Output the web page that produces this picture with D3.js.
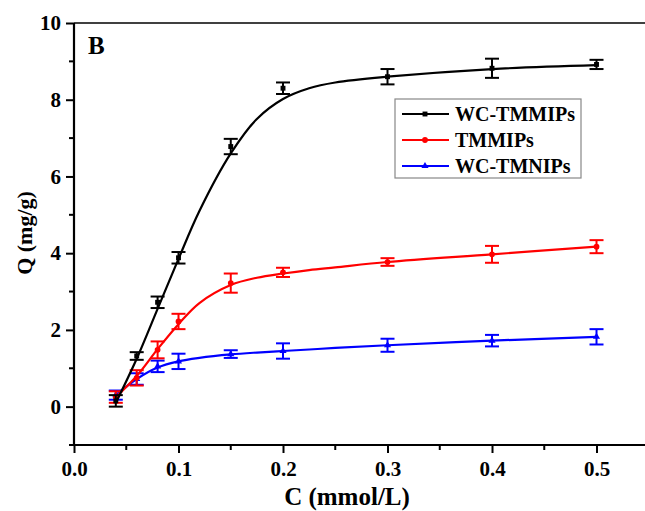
<!DOCTYPE html>
<html>
<head>
<meta charset="utf-8">
<script src="https://cdn.jsdelivr.net/npm/d3@7"></script>
<style>
  body { margin: 0; background: #fff; }
  text { font-family: "Liberation Serif", "Times New Roman", serif; font-weight: bold; }
</style>
</head>
<body>
<div id="chart"></div>
<script>
var svgWidth = 645;
var svgHeight = 511;

var margin = { top: 23, right: 0, bottom: 66, left: 74 };

// measured points (mmol/L)
var concs = [0.04, 0.06, 0.08, 0.1, 0.15, 0.2, 0.3, 0.4, 0.5];
var seriesNames = ["WC-TMMIPs", "TMMIPs", "WC-TMNIPs"];

var wcTmmipsQ   = [0.15, 1.32, 2.72, 3.88, 6.78, 8.30, 8.60, 8.82, 8.92];
var wcTmmipsErr = [0.15, 0.10, 0.15, 0.15, 0.20, 0.15, 0.20, 0.25, 0.12];
var tmmipsQ     = [0.25, 0.75, 1.48, 2.22, 3.22, 3.50, 3.77, 3.97, 4.17];
var tmmipsErr   = [0.15, 0.20, 0.22, 0.20, 0.25, 0.12, 0.10, 0.22, 0.17];
var wcTmnipsQ   = [0.30, 0.72, 1.05, 1.18, 1.37, 1.45, 1.60, 1.72, 1.82];
var wcTmnipsErr = [0.12, 0.15, 0.15, 0.20, 0.10, 0.20, 0.17, 0.15, 0.20];

// fitted curves
var fitC        = [0.04, 0.06, 0.08, 0.1, 0.12, 0.15, 0.175, 0.2, 0.225, 0.25, 0.3, 0.4, 0.5];
var wcTmmipsFit = [0.10, 1.25, 2.55, 3.85, 5.10, 6.60, 7.50, 8.02, 8.30, 8.45, 8.60, 8.80, 8.90];
var tmmipsFit   = [0.25, 0.80, 1.50, 2.15, 2.70, 3.17, 3.36, 3.47, 3.56, 3.63, 3.77, 3.97, 4.17];
var wcTmnipsFit = [0.30, 0.72, 1.02, 1.18, 1.27, 1.36, 1.41, 1.45, 1.49, 1.53, 1.60, 1.72, 1.82];

var colors = ["#000000", "#ff0000", "#0000ff"];
var markers = [d3.symbolSquare, d3.symbolCircle, d3.symbolTriangle];
var markerSizes = [24, 26, 22];

var xTicks = [0.0, 0.1, 0.2, 0.3, 0.4, 0.5];
var yTicks = [0, 2, 4, 6, 8, 10];

var width = svgWidth - margin.left - margin.right;
var height = svgHeight - margin.top - margin.bottom;

var svg = d3.select("#chart")
  .append("svg")
  .attr("width", svgWidth)
  .attr("height", svgHeight);

var chartGroup = svg.append("g")
  .attr("transform", `translate(${margin.left}, ${margin.top})`);

var x = d3.scaleLinear().domain([0, 0.5464]).range([0, width]);
var y = d3.scaleLinear().domain([-1, 10]).range([height, 0]);

// axes
var bottomAxis = d3.axisBottom(x).tickValues(xTicks).tickFormat(d3.format(".1f")).tickSize(8).tickPadding(8);
var leftAxis = d3.axisLeft(y).tickValues(yTicks).tickFormat(d3.format("d")).tickSize(8).tickPadding(5);

var xAxis = chartGroup.append("g")
  .attr("transform", `translate(0, ${height})`)
  .call(bottomAxis);
var yAxis = chartGroup.append("g").call(leftAxis);

// minor ticks
chartGroup.append("g").selectAll("line")
  .data([0.05, 0.15, 0.25, 0.35, 0.45])
  .enter().append("line")
  .attr("x1", d => x(d)).attr("x2", d => x(d))
  .attr("y1", height).attr("y2", height + 5)
  .attr("stroke", "#000").attr("stroke-width", 2);
chartGroup.append("g").selectAll("line")
  .data([-1, 1, 3, 5, 7, 9])
  .enter().append("line")
  .attr("x1", 0).attr("x2", -5)
  .attr("y1", d => y(d)).attr("y2", d => y(d))
  .attr("stroke", "#000").attr("stroke-width", 2);

[xAxis, yAxis].forEach(function(a) {
  a.select(".domain").attr("stroke-width", 2.2);
  a.selectAll(".tick line").attr("stroke-width", 2);
  a.selectAll(".tick text").style("font-size", "21px").attr("fill", "#000");
});
yAxis.select(".domain").attr("d", `M0,${height}V0`);
xAxis.select(".domain").attr("d", `M0,0H${width}`);

// top frame line
chartGroup.append("line")
  .attr("x1", 0).attr("x2", width)
  .attr("y1", 0).attr("y2", 0)
  .attr("stroke", "#000").attr("stroke-width", 1.6);

// series
var seriesQ = [wcTmmipsQ, tmmipsQ, wcTmnipsQ];
var seriesErr = [wcTmmipsErr, tmmipsErr, wcTmnipsErr];
var seriesFit = [wcTmmipsFit, tmmipsFit, wcTmnipsFit];

var line = d3.line()
  .x(d => x(d[0]))
  .y(d => y(d[1]))
  .curve(d3.curveCatmullRom.alpha(0.5));

// draw blue first so black sits on top
[2, 1, 0].forEach(function(i) {
  var g = chartGroup.append("g");
  var fitData = fitC.map((c, k) => [c, seriesFit[i][k]]);
  g.append("path")
    .attr("d", line(fitData))
    .attr("fill", "none")
    .attr("stroke", colors[i])
    .attr("stroke-width", 2.2);

  var pts = concs.map((c, k) => ({ c: c, q: seriesQ[i][k], e: seriesErr[i][k] }));
  var eb = g.selectAll(".eb").data(pts).enter().append("g");
  eb.append("line")
    .attr("x1", d => x(d.c)).attr("x2", d => x(d.c))
    .attr("y1", d => y(d.q - d.e)).attr("y2", d => y(d.q + d.e))
    .attr("stroke", colors[i]).attr("stroke-width", 2);
  [-1, 1].forEach(function(s) {
    eb.append("line")
      .attr("x1", d => x(d.c) - 7).attr("x2", d => x(d.c) + 7)
      .attr("y1", d => y(d.q + s * d.e)).attr("y2", d => y(d.q + s * d.e))
      .attr("stroke", colors[i]).attr("stroke-width", 2);
  });
  g.selectAll(".mk").data(pts).enter().append("path")
    .attr("d", d3.symbol().type(markers[i]).size(markerSizes[i]))
    .attr("transform", d => `translate(${x(d.c)}, ${y(d.q)})`)
    .attr("fill", colors[i]);
});

// panel label
chartGroup.append("text")
  .attr("x", 14).attr("y", 31)
  .style("font-size", "25px")
  .text("B");

// legend
var legend = chartGroup.append("g")
  .attr("transform", `translate(${395 - margin.left}, ${99 - margin.top})`);
legend.append("rect")
  .attr("width", 186).attr("height", 79)
  .attr("fill", "#fff")
  .attr("stroke", "#888").attr("stroke-width", 1.2);
seriesNames.forEach(function(name, i) {
  var ry = 15 + i * 26;
  legend.append("line")
    .attr("x1", 7).attr("x2", 54)
    .attr("y1", ry).attr("y2", ry)
    .attr("stroke", colors[i]).attr("stroke-width", 2);
  legend.append("path")
    .attr("d", d3.symbol().type(markers[i]).size(markerSizes[i]))
    .attr("transform", `translate(30, ${ry})`)
    .attr("fill", colors[i]);
  legend.append("text")
    .attr("x", 60).attr("y", ry + 7)
    .style("font-size", "20px")
    .text(name);
});

// axis titles
svg.append("text")
  .attr("x", 347).attr("y", 505)
  .attr("text-anchor", "middle")
  .style("font-size", "25px")
  .text("C (mmol/L)");

svg.append("text")
  .attr("transform", "rotate(-90)")
  .attr("x", -233).attr("y", 32)
  .attr("text-anchor", "middle")
  .style("font-size", "22px")
  .text("Q (mg/g)");
</script>
</body>
</html>
